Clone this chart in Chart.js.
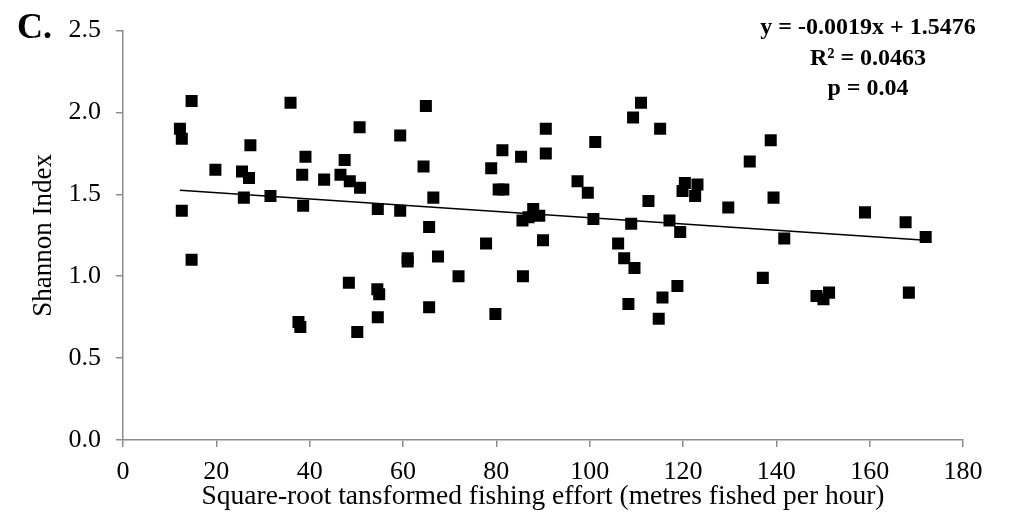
<!DOCTYPE html>
<html>
<head>
<meta charset="utf-8">
<script src="https://cdn.jsdelivr.net/npm/chart.js@4/dist/chart.umd.min.js"></script>
<style>
  html, body { margin: 0; padding: 0; background: #fff; }
  #wrap { width: 1016px; height: 529px; position: relative; }
</style>
</head>
<body>
<div id="wrap"><canvas id="chart"></canvas></div>
<script>
// effort (sqrt metres fished per hour) vs Shannon index
const effortX = [
    14.7, 12.2, 12.6, 35.9, 27.3, 39.1, 19.8, 25.5, 27.0, 38.4,
    25.9, 31.6, 38.6, 12.6, 14.7, 37.6, 38.0, 43.1, 64.9, 50.7,
    59.4, 47.5, 64.4, 81.3, 85.3, 46.6, 48.6, 50.8, 78.9, 80.5,
    81.5, 66.5, 54.6, 59.4, 65.6, 77.8, 61.0, 61.0, 67.5, 71.9,
    85.7, 48.4, 54.5, 54.9, 65.6, 79.8, 54.6, 50.2, 111.0, 109.3,
    115.1, 90.6, 101.2, 90.6, 97.4, 99.6, 120.4, 119.9, 123.1, 122.6,
    112.6, 87.9, 85.6, 89.2, 86.9, 100.8, 108.9, 117.1, 119.4, 90.0,
    106.1, 107.4, 109.6, 118.8, 115.6, 108.3, 114.8, 138.8, 134.3, 139.4,
    129.7, 159.0, 167.7, 172.0, 141.7, 137.1, 148.6, 151.3, 150.1, 168.4
];
const shannon = [
    2.07, 1.90, 1.84, 2.06, 1.80, 1.73, 1.65, 1.64, 1.60, 1.62,
    1.48, 1.49, 1.43, 1.40, 1.10, 0.72, 0.69, 1.59, 2.04, 1.91,
    1.86, 1.71, 1.67, 1.77, 1.73, 1.62, 1.58, 1.54, 1.66, 1.53,
    1.53, 1.48, 1.41, 1.40, 1.30, 1.20, 1.11, 1.09, 1.12, 1.00,
    1.00, 0.96, 0.92, 0.89, 0.81, 0.77, 0.75, 0.66, 2.06, 1.97,
    1.90, 1.90, 1.82, 1.75, 1.58, 1.51, 1.57, 1.52, 1.56, 1.49,
    1.46, 1.41, 1.34, 1.37, 1.36, 1.35, 1.32, 1.34, 1.27, 1.22,
    1.20, 1.11, 1.05, 0.94, 0.87, 0.83, 0.74, 1.83, 1.70, 1.48,
    1.42, 1.39, 1.33, 1.24, 1.23, 0.99, 0.88, 0.90, 0.86, 0.90
];

// fitted line ends, as drawn
const trendX = [12.2, 172.0];
const trendY = [1.525, 1.220];

const xTicks = [0, 20, 40, 60, 80, 100, 120, 140, 160, 180];
const yTicks = [0.0, 0.5, 1.0, 1.5, 2.0, 2.5];

const statLines = ['y = -0.0019x + 1.5476', 'R\u00b2 = 0.0463', 'p = 0.04'];
const panelLabel = 'C.';

const serif = '"Liberation Serif", "Times New Roman", serif';
const axisGrey = '#8c8c8c';

const textPlugin = {
    id: 'panelText',
    afterDraw(chart) {
        const c = chart.ctx;
        c.save();
        c.fillStyle = '#000';
        c.textBaseline = 'middle';
        c.textAlign = 'left';
        c.font = 'bold 36px ' + serif;
        c.fillText(panelLabel, 17, 29);
        c.textAlign = 'center';
        c.font = 'bold 24px ' + serif;
        statLines.forEach((t, i) => c.fillText(t, 868, 28 + i * 30.5));
        c.restore();
    }
};

new Chart(document.getElementById('chart'), {
    type: 'scatter',
    data: {
        datasets: [
            {
                label: 'Sites',
                data: effortX.map((x, i) => ({ x: x, y: shannon[i] })),
                pointStyle: 'rect',
                pointRadius: 8.5,
                pointBorderWidth: 0,
                backgroundColor: '#000',
                borderColor: '#000'
            },
            {
                type: 'line',
                label: 'Trend',
                data: trendX.map((x, i) => ({ x: x, y: trendY[i] })),
                borderColor: '#000',
                borderWidth: 1.5,
                pointRadius: 0,
                fill: false
            }
        ]
    },
    options: {
        responsive: true,
        maintainAspectRatio: false,
        animation: false,
        layout: { padding: { left: 0, top: 27, right: 53, bottom: 0 } },
        plugins: {
            legend: { display: false },
            tooltip: { enabled: false }
        },
        scales: {
            x: {
                type: 'linear',
                min: 0,
                max: 180,
                afterBuildTicks: s => { s.ticks = xTicks.map(v => ({ value: v })); },
                afterFit: s => { s.height = 89; },
                grid: { drawOnChartArea: false, color: axisGrey, tickLength: 7, lineWidth: 1.5 },
                border: { color: axisGrey, width: 1.5 },
                ticks: { color: '#000', font: { family: serif, size: 26 }, padding: 10, maxRotation: 0 },
                title: {
                    display: true,
                    text: 'Square-root tansformed fishing effort (metres fished per hour)',
                    color: '#000',
                    font: { family: serif, size: 27.5 },
                    padding: { top: 0, bottom: 16 }
                }
            },
            y: {
                type: 'linear',
                min: 0,
                max: 2.5,
                afterBuildTicks: s => { s.ticks = yTicks.map(v => ({ value: v })); },
                afterFit: s => { s.width = 123; },
                grid: { drawOnChartArea: false, color: axisGrey, tickLength: 7, lineWidth: 1.5 },
                border: { color: axisGrey, width: 1.5 },
                ticks: {
                    color: '#000',
                    font: { family: serif, size: 26 },
                    padding: 15,
                    callback: v => Number(v).toFixed(1)
                },
                title: {
                    display: true,
                    text: 'Shannon Index',
                    color: '#000',
                    font: { family: serif, size: 27 },
                    padding: { top: 28, bottom: 0 }
                }
            }
        }
    },
    plugins: [textPlugin]
});
</script>
</body>
</html>
